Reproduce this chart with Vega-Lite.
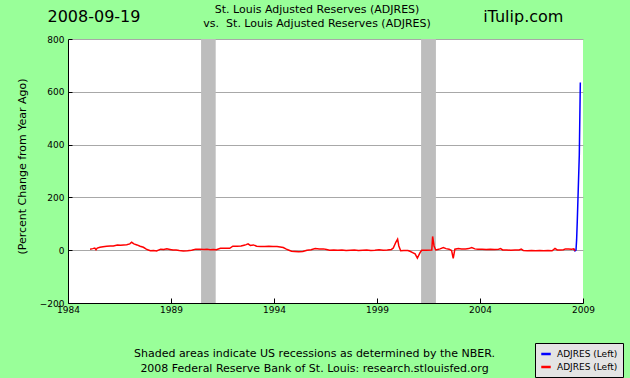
{
  "$schema": "https://vega.github.io/schema/vega-lite/v6.json",
  "width": 515,
  "height": 264,
  "autosize": {"type": "none"},
  "padding": {"left": 68, "top": 39, "right": 47, "bottom": 75},
  "background": "#99ff99",
  "datasets": {
    "recessions": [
      {"start": 1990.46, "end": 1991.17},
      {"start": 2001.14, "end": 2001.86}
    ],
    "blue": [
      {"year": 2008.55, "value": 5, "series": "ADJRES-1"},
      {"year": 2008.61, "value": -3, "series": "ADJRES-1"},
      {"year": 2008.66, "value": 0, "series": "ADJRES-1"},
      {"year": 2008.69, "value": 39, "series": "ADJRES-1"},
      {"year": 2008.72, "value": 105, "series": "ADJRES-1"},
      {"year": 2008.77, "value": 232, "series": "ADJRES-1"},
      {"year": 2008.82, "value": 360, "series": "ADJRES-1"},
      {"year": 2008.87, "value": 635, "series": "ADJRES-1"}
    ],
    "red": [
      {"year": 1985.07, "value": 4, "series": "ADJRES-2"},
      {"year": 1985.2, "value": 6, "series": "ADJRES-2"},
      {"year": 1985.3, "value": 8, "series": "ADJRES-2"},
      {"year": 1985.36, "value": 2, "series": "ADJRES-2"},
      {"year": 1985.42, "value": 8, "series": "ADJRES-2"},
      {"year": 1985.55, "value": 11, "series": "ADJRES-2"},
      {"year": 1985.7, "value": 13, "series": "ADJRES-2"},
      {"year": 1985.88, "value": 15, "series": "ADJRES-2"},
      {"year": 1986.05, "value": 16, "series": "ADJRES-2"},
      {"year": 1986.2, "value": 16, "series": "ADJRES-2"},
      {"year": 1986.4, "value": 20, "series": "ADJRES-2"},
      {"year": 1986.55, "value": 19, "series": "ADJRES-2"},
      {"year": 1986.7, "value": 20, "series": "ADJRES-2"},
      {"year": 1986.85, "value": 21, "series": "ADJRES-2"},
      {"year": 1987.0, "value": 24, "series": "ADJRES-2"},
      {"year": 1987.09, "value": 30, "series": "ADJRES-2"},
      {"year": 1987.2, "value": 24, "series": "ADJRES-2"},
      {"year": 1987.35, "value": 20, "series": "ADJRES-2"},
      {"year": 1987.5, "value": 15, "series": "ADJRES-2"},
      {"year": 1987.66, "value": 11, "series": "ADJRES-2"},
      {"year": 1987.8, "value": 4, "series": "ADJRES-2"},
      {"year": 1987.9, "value": 1, "series": "ADJRES-2"},
      {"year": 1988.0, "value": -2, "series": "ADJRES-2"},
      {"year": 1988.15, "value": -1, "series": "ADJRES-2"},
      {"year": 1988.3, "value": -3, "series": "ADJRES-2"},
      {"year": 1988.5, "value": 4, "series": "ADJRES-2"},
      {"year": 1988.65, "value": 3, "series": "ADJRES-2"},
      {"year": 1988.8, "value": 5, "series": "ADJRES-2"},
      {"year": 1988.95, "value": 3, "series": "ADJRES-2"},
      {"year": 1989.1, "value": 1, "series": "ADJRES-2"},
      {"year": 1989.25, "value": 1, "series": "ADJRES-2"},
      {"year": 1989.4, "value": -1, "series": "ADJRES-2"},
      {"year": 1989.6, "value": -3, "series": "ADJRES-2"},
      {"year": 1989.8, "value": -2, "series": "ADJRES-2"},
      {"year": 1990.0, "value": 0, "series": "ADJRES-2"},
      {"year": 1990.2, "value": 4, "series": "ADJRES-2"},
      {"year": 1990.4, "value": 4, "series": "ADJRES-2"},
      {"year": 1990.6, "value": 3, "series": "ADJRES-2"},
      {"year": 1990.75, "value": 4, "series": "ADJRES-2"},
      {"year": 1990.9, "value": 2, "series": "ADJRES-2"},
      {"year": 1991.05, "value": 3, "series": "ADJRES-2"},
      {"year": 1991.2, "value": 2, "series": "ADJRES-2"},
      {"year": 1991.4, "value": 7, "series": "ADJRES-2"},
      {"year": 1991.6, "value": 7, "series": "ADJRES-2"},
      {"year": 1991.85, "value": 7, "series": "ADJRES-2"},
      {"year": 1992.0, "value": 15, "series": "ADJRES-2"},
      {"year": 1992.2, "value": 15, "series": "ADJRES-2"},
      {"year": 1992.4, "value": 16, "series": "ADJRES-2"},
      {"year": 1992.55, "value": 19, "series": "ADJRES-2"},
      {"year": 1992.65, "value": 21, "series": "ADJRES-2"},
      {"year": 1992.74, "value": 24, "series": "ADJRES-2"},
      {"year": 1992.85, "value": 18, "series": "ADJRES-2"},
      {"year": 1993.0, "value": 20, "series": "ADJRES-2"},
      {"year": 1993.16, "value": 15, "series": "ADJRES-2"},
      {"year": 1993.35, "value": 14, "series": "ADJRES-2"},
      {"year": 1993.55, "value": 14, "series": "ADJRES-2"},
      {"year": 1993.75, "value": 15, "series": "ADJRES-2"},
      {"year": 1993.95, "value": 14, "series": "ADJRES-2"},
      {"year": 1994.15, "value": 14, "series": "ADJRES-2"},
      {"year": 1994.3, "value": 12, "series": "ADJRES-2"},
      {"year": 1994.45, "value": 10, "series": "ADJRES-2"},
      {"year": 1994.6, "value": 4, "series": "ADJRES-2"},
      {"year": 1994.7, "value": 1, "series": "ADJRES-2"},
      {"year": 1994.85, "value": -4, "series": "ADJRES-2"},
      {"year": 1995.0, "value": -5, "series": "ADJRES-2"},
      {"year": 1995.2, "value": -6, "series": "ADJRES-2"},
      {"year": 1995.4, "value": -5, "series": "ADJRES-2"},
      {"year": 1995.6, "value": 0, "series": "ADJRES-2"},
      {"year": 1995.8, "value": 2, "series": "ADJRES-2"},
      {"year": 1996.0, "value": 6, "series": "ADJRES-2"},
      {"year": 1996.2, "value": 5, "series": "ADJRES-2"},
      {"year": 1996.4, "value": 5, "series": "ADJRES-2"},
      {"year": 1996.55, "value": 3, "series": "ADJRES-2"},
      {"year": 1996.7, "value": 0, "series": "ADJRES-2"},
      {"year": 1996.9, "value": 1, "series": "ADJRES-2"},
      {"year": 1997.1, "value": 0, "series": "ADJRES-2"},
      {"year": 1997.3, "value": 1, "series": "ADJRES-2"},
      {"year": 1997.5, "value": -1, "series": "ADJRES-2"},
      {"year": 1997.7, "value": 0, "series": "ADJRES-2"},
      {"year": 1997.9, "value": 1, "series": "ADJRES-2"},
      {"year": 1998.1, "value": -1, "series": "ADJRES-2"},
      {"year": 1998.3, "value": 0, "series": "ADJRES-2"},
      {"year": 1998.5, "value": 1, "series": "ADJRES-2"},
      {"year": 1998.7, "value": -1, "series": "ADJRES-2"},
      {"year": 1998.9, "value": 0, "series": "ADJRES-2"},
      {"year": 1999.1, "value": 2, "series": "ADJRES-2"},
      {"year": 1999.3, "value": 0, "series": "ADJRES-2"},
      {"year": 1999.5, "value": 1, "series": "ADJRES-2"},
      {"year": 1999.7, "value": 3, "series": "ADJRES-2"},
      {"year": 1999.79, "value": 8, "series": "ADJRES-2"},
      {"year": 1999.92, "value": 31, "series": "ADJRES-2"},
      {"year": 2000.0, "value": 42, "series": "ADJRES-2"},
      {"year": 2000.06, "value": 16, "series": "ADJRES-2"},
      {"year": 2000.15, "value": -2, "series": "ADJRES-2"},
      {"year": 2000.3, "value": -1, "series": "ADJRES-2"},
      {"year": 2000.5, "value": -1, "series": "ADJRES-2"},
      {"year": 2000.6, "value": -4, "series": "ADJRES-2"},
      {"year": 2000.73, "value": -9, "series": "ADJRES-2"},
      {"year": 2000.85, "value": -14, "series": "ADJRES-2"},
      {"year": 2000.96, "value": -30, "series": "ADJRES-2"},
      {"year": 2001.09, "value": -9, "series": "ADJRES-2"},
      {"year": 2001.17, "value": 0, "series": "ADJRES-2"},
      {"year": 2001.4, "value": 0, "series": "ADJRES-2"},
      {"year": 2001.66, "value": 1, "series": "ADJRES-2"},
      {"year": 2001.7, "value": 52, "series": "ADJRES-2"},
      {"year": 2001.77, "value": 16, "series": "ADJRES-2"},
      {"year": 2001.85, "value": 1, "series": "ADJRES-2"},
      {"year": 2001.95, "value": 3, "series": "ADJRES-2"},
      {"year": 2002.06, "value": 5, "series": "ADJRES-2"},
      {"year": 2002.22, "value": 10, "series": "ADJRES-2"},
      {"year": 2002.35, "value": 6, "series": "ADJRES-2"},
      {"year": 2002.5, "value": 4, "series": "ADJRES-2"},
      {"year": 2002.62, "value": -1, "series": "ADJRES-2"},
      {"year": 2002.7, "value": -31, "series": "ADJRES-2"},
      {"year": 2002.78, "value": 4, "series": "ADJRES-2"},
      {"year": 2002.95, "value": 6, "series": "ADJRES-2"},
      {"year": 2003.1, "value": 5, "series": "ADJRES-2"},
      {"year": 2003.3, "value": 5, "series": "ADJRES-2"},
      {"year": 2003.45, "value": 6, "series": "ADJRES-2"},
      {"year": 2003.6, "value": 10, "series": "ADJRES-2"},
      {"year": 2003.75, "value": 5, "series": "ADJRES-2"},
      {"year": 2003.9, "value": 4, "series": "ADJRES-2"},
      {"year": 2004.1, "value": 4, "series": "ADJRES-2"},
      {"year": 2004.3, "value": 3, "series": "ADJRES-2"},
      {"year": 2004.5, "value": 4, "series": "ADJRES-2"},
      {"year": 2004.7, "value": 3, "series": "ADJRES-2"},
      {"year": 2004.9, "value": 4, "series": "ADJRES-2"},
      {"year": 2005.0, "value": 6, "series": "ADJRES-2"},
      {"year": 2005.1, "value": 1, "series": "ADJRES-2"},
      {"year": 2005.3, "value": 1, "series": "ADJRES-2"},
      {"year": 2005.5, "value": 0, "series": "ADJRES-2"},
      {"year": 2005.7, "value": 1, "series": "ADJRES-2"},
      {"year": 2005.9, "value": 1, "series": "ADJRES-2"},
      {"year": 2006.0, "value": 4, "series": "ADJRES-2"},
      {"year": 2006.1, "value": -1, "series": "ADJRES-2"},
      {"year": 2006.3, "value": -2, "series": "ADJRES-2"},
      {"year": 2006.5, "value": -1, "series": "ADJRES-2"},
      {"year": 2006.7, "value": -2, "series": "ADJRES-2"},
      {"year": 2006.9, "value": -1, "series": "ADJRES-2"},
      {"year": 2007.1, "value": -2, "series": "ADJRES-2"},
      {"year": 2007.3, "value": -1, "series": "ADJRES-2"},
      {"year": 2007.5, "value": -2, "series": "ADJRES-2"},
      {"year": 2007.64, "value": 7, "series": "ADJRES-2"},
      {"year": 2007.75, "value": 1, "series": "ADJRES-2"},
      {"year": 2007.9, "value": 1, "series": "ADJRES-2"},
      {"year": 2008.05, "value": 2, "series": "ADJRES-2"},
      {"year": 2008.15, "value": 5, "series": "ADJRES-2"},
      {"year": 2008.3, "value": 5, "series": "ADJRES-2"},
      {"year": 2008.45, "value": 4, "series": "ADJRES-2"},
      {"year": 2008.55, "value": 5, "series": "ADJRES-2"},
      {"year": 2008.61, "value": -3, "series": "ADJRES-2"}
    ]
  },
  "layer": [
    {
      "data": {"name": "recessions"},
      "mark": {"type": "rect", "color": "#bdbdbd"},
      "encoding": {
        "x": {"field": "start", "type": "quantitative", "scale": {"domain": [1984, 2009], "nice": false, "zero": false}},
        "x2": {"field": "end"}
      }
    },
    {
      "data": {"name": "blue"},
      "mark": {"type": "line", "strokeWidth": 1.5},
      "encoding": {
        "x": {"field": "year", "type": "quantitative"},
        "y": {"field": "value", "type": "quantitative"},
        "color": {"field": "series", "type": "nominal"}
      }
    },
    {
      "data": {"name": "red"},
      "mark": {"type": "line", "strokeWidth": 1.5},
      "encoding": {
        "x": {
          "field": "year",
          "type": "quantitative",
          "scale": {"domain": [1984, 2009], "nice": false, "zero": false},
          "axis": {
            "values": [1984, 1989, 1994, 1999, 2004, 2009],
            "format": "d",
            "grid": false,
            "labelFlush": false,
            "tickSize": -5,
            "tickColor": "#000000",
            "domainColor": "#000000",
            "labelFont": "DejaVu Sans",
            "labelFontSize": 9,
            "labelColor": "#000000",
            "labelPadding": 7,
            "title": ["Shaded areas indicate US recessions as determined by the NBER.", "2008 Federal Reserve Bank of St. Louis: research.stlouisfed.org"],
            "titleFont": "DejaVu Sans",
            "titleFontSize": 11,
            "titleFontWeight": "normal",
            "titleColor": "#000000",
            "titleLineHeight": 15,
            "titleX": 246,
            "titleY": 53,
            "titleAlign": "center",
            "titleBaseline": "alphabetic"
          }
        },
        "y": {
          "field": "value",
          "type": "quantitative",
          "scale": {"domain": [-200, 800], "nice": false, "zero": false},
          "axis": {
            "values": [-200, 0, 200, 400, 600, 800],
            "grid": true,
            "gridColor": "#a8a8a8",
            "gridOpacity": 1,
            "labelFlush": false,
            "tickSize": -4,
            "tickColor": "#000000",
            "domainColor": "#000000",
            "labelFont": "DejaVu Sans",
            "labelFontSize": 9,
            "labelColor": "#000000",
            "labelPadding": 8,
            "title": "(Percent Change from Year Ago)",
            "titleFont": "DejaVu Sans",
            "titleFontSize": 11,
            "titleFontWeight": "normal",
            "titleColor": "#000000",
            "titleAngle": -90,
            "titleX": -46,
            "titleY": 127,
            "titleAlign": "center",
            "titleBaseline": "middle"
          }
        },
        "color": {
          "field": "series",
          "type": "nominal",
          "scale": {"domain": ["ADJRES-1", "ADJRES-2"], "range": ["#0000ff", "#ff0000"]},
          "legend": {
            "title": null,
            "orient": "none",
            "legendX": 467,
            "legendY": 304,
            "labelExpr": "'ADJRES (Left)'",
            "labelFont": "DejaVu Sans",
            "labelFontSize": 9,
            "labelColor": "#000000",
            "symbolType": "stroke",
            "symbolSize": 90,
            "symbolStrokeWidth": 2.5,
            "fillColor": "#e4e4e4",
            "strokeColor": "#000000",
            "padding": 5,
            "rowPadding": 2,
            "labelOffset": 5
          }
        }
      }
    },
    {
      "data": {"values": [{}]},
      "mark": {"type": "text", "font": "DejaVu Sans", "fontSize": 11, "align": "center", "baseline": "alphabetic", "color": "#000000"},
      "encoding": {
        "x": {"datum": 1996.09, "type": "quantitative"},
        "y": {"datum": 897, "type": "quantitative"},
        "text": {"value": "St. Louis Adjusted Reserves (ADJRES)"}
      }
    },
    {
      "data": {"values": [{}]},
      "mark": {"type": "text", "font": "DejaVu Sans", "fontSize": 11, "align": "center", "baseline": "alphabetic", "color": "#000000"},
      "encoding": {
        "x": {"datum": 1996.09, "type": "quantitative"},
        "y": {"datum": 847, "type": "quantitative"},
        "text": {"value": "vs.\u00a0\u00a0St. Louis Adjusted Reserves (ADJRES)"}
      }
    },
    {
      "data": {"values": [{}]},
      "mark": {"type": "text", "font": "DejaVu Sans", "fontSize": 16, "align": "center", "baseline": "alphabetic", "color": "#000000"},
      "encoding": {
        "x": {"datum": 1985.26, "type": "quantitative"},
        "y": {"datum": 863, "type": "quantitative"},
        "text": {"value": "2008-09-19"}
      }
    },
    {
      "data": {"values": [{}]},
      "mark": {"type": "text", "font": "DejaVu Sans", "fontSize": 16, "align": "center", "baseline": "alphabetic", "color": "#000000"},
      "encoding": {
        "x": {"datum": 2006.1, "type": "quantitative"},
        "y": {"datum": 866, "type": "quantitative"},
        "text": {"value": "iTulip.com"}
      }
    }
  ],
  "config": {
    "view": {"fill": "#ffffff", "stroke": null},
    "axis": {"domainWidth": 1, "tickWidth": 1}
  }
}
